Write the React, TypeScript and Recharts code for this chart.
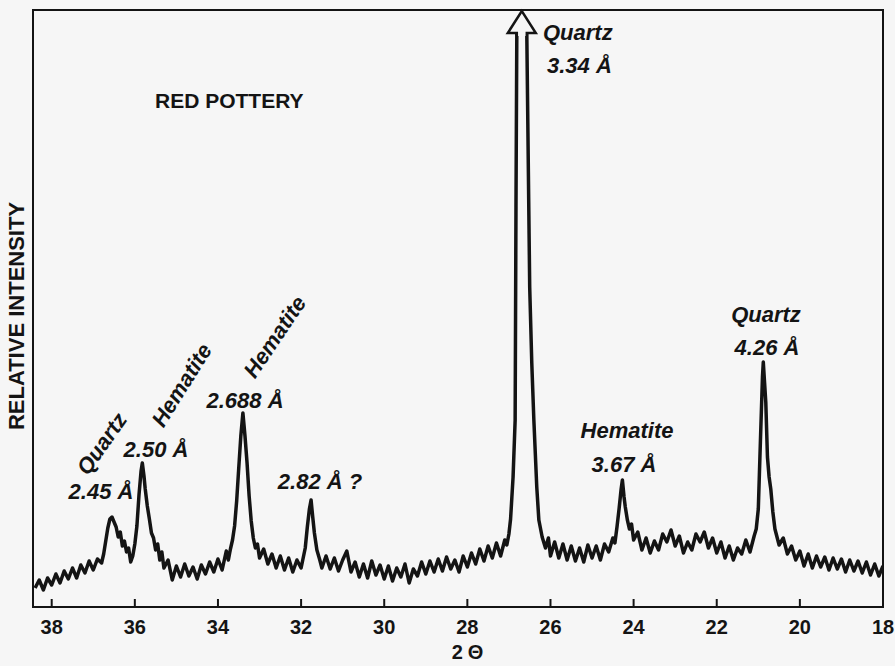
import React from 'react';
import { LineChart, Line, XAxis, YAxis, ReferenceArea, ReferenceLine, ReferenceDot } from 'recharts';

// 2-theta (degrees) and relative intensity readings
const twoTheta: number[] = [
  38.4, 38.3, 38.2, 38.1, 38.0, 37.9, 37.8, 37.7, 37.6, 37.5, 37.4, 37.3, 37.2, 37.1, 37.0, 36.9, 36.8, 36.75,
  36.7, 36.65, 36.6, 36.55, 36.5, 36.45, 36.4, 36.35, 36.3, 36.25, 36.2, 36.15, 36.1, 36.05, 36.0, 35.95, 35.9,
  35.85, 35.82, 35.78, 35.75, 35.7, 35.65, 35.6, 35.55, 35.5, 35.45, 35.4, 35.35, 35.3, 35.2, 35.1, 35.0, 34.9,
  34.8, 34.7, 34.6, 34.5, 34.4, 34.3, 34.2, 34.1, 34.0, 33.9, 33.8, 33.75, 33.7, 33.65, 33.6, 33.55, 33.5, 33.45,
  33.4, 33.35, 33.3, 33.25, 33.2, 33.15, 33.1, 33.05, 33.0, 32.9, 32.8, 32.7, 32.6, 32.5, 32.4, 32.3, 32.2, 32.1,
  32.0, 31.95, 31.9, 31.85, 31.8, 31.76, 31.72, 31.68, 31.62, 31.55, 31.5, 31.4, 31.3, 31.2, 31.1, 31.0, 30.9,
  30.8, 30.7, 30.6, 30.5, 30.4, 30.3, 30.2, 30.1, 30.0, 29.9, 29.8, 29.7, 29.6, 29.5, 29.4, 29.3, 29.2, 29.1,
  29.0, 28.9, 28.8, 28.7, 28.6, 28.5, 28.4, 28.3, 28.2, 28.1, 28.0, 27.9, 27.8, 27.7, 27.6, 27.5, 27.4, 27.3,
  27.2, 27.1, 27.05, 27.0, 26.96, 26.9, 26.85, 26.83, 26.81, 26.57, 26.5, 26.45, 26.4, 26.33, 26.28, 26.2, 26.12,
  26.05, 26.0, 25.9, 25.8, 25.7, 25.6, 25.5, 25.4, 25.3, 25.2, 25.1, 25.0, 24.9, 24.8, 24.7, 24.6, 24.5, 24.45,
  24.4, 24.35, 24.3, 24.27, 24.23, 24.2, 24.15, 24.1, 24.05, 24.0, 23.9, 23.8, 23.7, 23.6, 23.5, 23.4, 23.3,
  23.2, 23.1, 23.0, 22.9, 22.8, 22.7, 22.6, 22.5, 22.4, 22.3, 22.2, 22.1, 22.0, 21.9, 21.8, 21.7, 21.6, 21.5,
  21.4, 21.3, 21.2, 21.1, 21.05, 21.0, 20.95, 20.9, 20.88, 20.85, 20.82, 20.78, 20.74, 20.7, 20.65, 20.6, 20.55,
  20.5, 20.4, 20.3, 20.2, 20.1, 20.0, 19.9, 19.8, 19.7, 19.6, 19.5, 19.4, 19.3, 19.2, 19.1, 19.0, 18.9, 18.8,
  18.7, 18.6, 18.5, 18.4, 18.3, 18.2, 18.1, 18.0,
];

const intensity: number[] = [
  19, 27, 17, 29, 22, 33, 24, 36, 28, 39, 29, 42, 34, 46, 37, 48, 44, 53,
  66, 79, 88, 90, 85, 80, 70, 75, 61, 66, 55, 59, 45, 51, 63, 81, 112,
  136, 144, 131, 118, 101, 88, 74, 69, 57, 63, 47, 55, 39, 47, 27, 41, 30,
  43, 31, 40, 28, 42, 33, 45, 35, 48, 37, 56, 47, 58, 67, 81, 106, 139, 171,
  194, 171, 144, 111, 86, 69, 59, 63, 49, 58, 43, 53, 39, 51, 37, 49, 35, 47,
  39, 49, 59, 80, 98, 107, 90, 74, 57, 47, 39, 51, 38, 49, 36, 47, 56,
  35, 45, 30, 43, 29, 46, 32, 42, 28, 41, 26, 39, 30, 43, 24, 38, 31, 45,
  33, 46, 35, 48, 36, 50, 38, 47, 35, 51, 40, 54, 43, 58, 46, 61, 49, 64,
  51, 67, 62, 73, 88, 130, 187, 400, 574, 574, 320, 244, 187, 120, 87, 70, 59,
  69, 51, 65, 49, 63, 47, 61, 46, 59, 45, 62, 49, 61, 47, 63, 55, 69, 64,
  80, 98, 118, 127, 110, 100, 87, 78, 83, 67, 75, 57, 69, 54, 66, 57, 73,
  65, 77, 61, 71, 54, 65, 57, 73, 65, 75, 59, 69, 54, 65, 49, 61, 47, 59,
  53, 67, 55, 71, 78, 98, 165, 230, 245, 225, 205, 150, 130, 118, 95, 78, 70,
  62, 69, 53, 61, 47, 56, 41, 53, 39, 51, 40, 50, 37, 49, 38, 48, 35, 47,
  36, 46, 34, 45, 32, 43, 31, 41,
];

const xTicks: number[] = [38, 36, 34, 32, 30, 28, 26, 24, 22, 20, 18];

const data = twoTheta.map((t, k) => ({ t, i: intensity[k] }));

const FONT = '"Liberation Sans", Arial, Helvetica, sans-serif';
const INK = '#141414';

const ArrowHead = (p: any) => {
  const { cx, cy } = p;
  if (cx == null || cy == null) return null;
  const d = `M ${cx - 5} ${cy + 3} L ${cx - 5} ${cy} L ${cx - 14} ${cy} L ${cx} ${cy - 22} L ${cx + 14} ${cy} L ${cx + 5} ${cy} L ${cx + 5} ${cy + 3}`;
  return <path d={d} fill="#f6f6f6" stroke={INK} strokeWidth={2.5} strokeLinejoin="miter" />;
};

const ann = { fontFamily: FONT, fontWeight: 700, fontStyle: 'italic' as const, fontSize: 22, fill: INK };

export default function App() {
  return (
    <div style={{ position: 'absolute', left: 0, top: 0, width: 895, height: 666, background: '#f6f6f6' }}>
      <LineChart width={895} height={666} data={data} margin={{ top: 10, right: 12, left: 33, bottom: 29 }}>
        <XAxis
          dataKey="t"
          type="number"
          domain={[18, 38.45]}
          reversed
          allowDataOverflow
          ticks={xTicks}
          interval={0}
          tickLine={false}
          tickMargin={7}
          axisLine={{ stroke: INK, strokeWidth: 2 }}
          tick={{ fontSize: 20, fontWeight: 700, fill: INK, fontFamily: FONT }}
        />
        <YAxis hide type="number" domain={[0, 597]} allowDataOverflow />
        <ReferenceArea x1={38.45} x2={18} y1={0} y2={597} fill="none" stroke={INK} strokeWidth={2} ifOverflow="visible" />
        {xTicks.map((t) => (
          <ReferenceLine key={t} segment={[{ x: t, y: 0 }, { x: t, y: 8 }]} stroke={INK} strokeWidth={2} ifOverflow="visible" />
        ))}
        <Line type="linear" dataKey="i" stroke={INK} strokeWidth={3.5} dot={false} isAnimationActive={false} strokeLinejoin="round" />
        <ReferenceDot x={26.69} y={574} r={0} shape={ArrowHead} ifOverflow="visible" />
      </LineChart>
      <svg width={895} height={666} style={{ position: 'absolute', left: 0, top: 0, pointerEvents: 'none' }}>
        <text x={24} y={316} transform="rotate(-90 24 316)" textAnchor="middle" fontFamily={FONT} fontWeight={700} fontSize={22} fill={INK}>RELATIVE INTENSITY</text>
        <text x={155} y={108} fontFamily={FONT} fontWeight={700} fontSize={21} fill={INK}>RED POTTERY</text>
        <text x={470} y={659} textAnchor="middle" fontFamily={FONT} fontWeight={700} fontSize={20} letterSpacing={5} fill={INK}>2Θ</text>

        <text x={108} y={448} transform="rotate(-55 108 448)" textAnchor="middle" {...ann}>Quartz</text>
        <text x={101} y={499} textAnchor="middle" {...ann}>2.45 Å</text>
        <text x={188} y={389} transform="rotate(-58 188 389)" textAnchor="middle" {...ann}>Hematite</text>
        <text x={156} y={457} textAnchor="middle" {...ann}>2.50 Å</text>
        <text x={281} y={341} transform="rotate(-56 281 341)" textAnchor="middle" {...ann}>Hematite</text>
        <text x={245} y={408} textAnchor="middle" {...ann}>2.688 Å</text>
        <text x={320} y={489} textAnchor="middle" {...ann}>2.82 Å ?</text>
        <text x={543} y={40} {...ann}>Quartz</text>
        <text x={547} y={73} {...ann}>3.34 Å</text>
        <text x={627} y={438} textAnchor="middle" {...ann}>Hematite</text>
        <text x={624} y={472} textAnchor="middle" {...ann}>3.67 Å</text>
        <text x={766} y={322} textAnchor="middle" {...ann}>Quartz</text>
        <text x={767} y={355} textAnchor="middle" {...ann}>4.26 Å</text>
      </svg>
    </div>
  );
}
